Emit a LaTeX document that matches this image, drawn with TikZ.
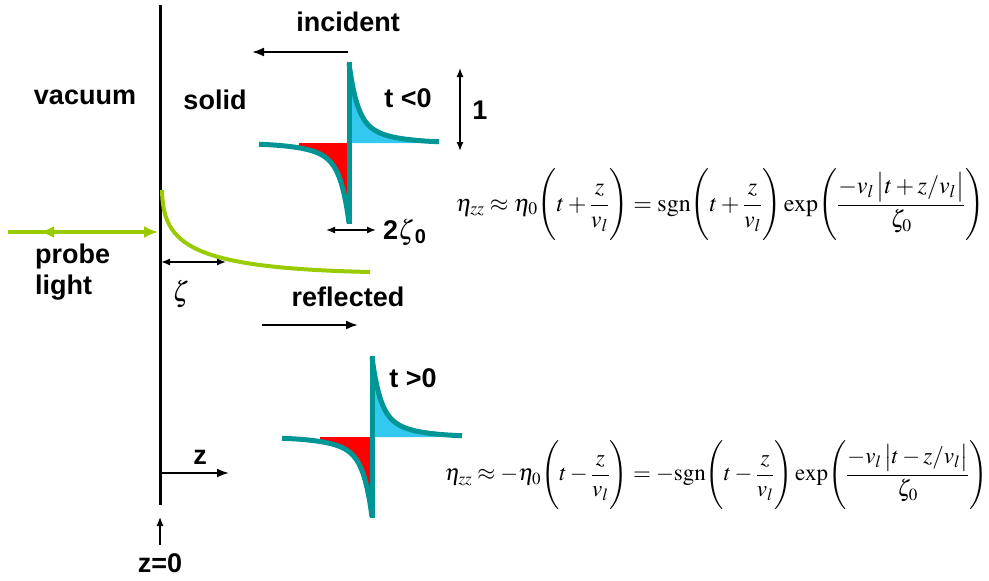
\documentclass[tikz,border=0pt]{standalone}
\usepackage[no-math]{fontspec}
\usepackage{amsmath,mathptmx}
\usepackage{tikz}
\usetikzlibrary{arrows.meta,positioning,calc}
\newfontfamily\labelfont{Liberation Sans}
\definecolor{pulseteal}{RGB}{0,150,150}
\definecolor{pulsecyan}{RGB}{50,200,240}
\definecolor{pulsered}{RGB}{255,0,0}
\definecolor{probegreen}{RGB}{153,204,0}

\tikzset{
  lbl/.style={font=\fontsize{27}{31}\selectfont\labelfont\bfseries,inner sep=0pt},
  eqn/.style={font=\fontsize{24}{28}\selectfont,inner sep=0pt},
  blackarrow/.style={line width=2pt,-{Latex[length=12pt,width=9pt]}},
  dimarrow/.style={line width=1.4pt,{Latex[length=9pt,width=7pt]}-{Latex[length=9pt,width=7pt]}},
  declare function={pulse(\x)=55*exp(-\x/8)+25*exp(-\x/30);},
}

\begin{document}
\begin{tikzpicture}[x=1pt,y=-1pt]
\useasboundingbox (0,0) rectangle (989,581);
% wall at z=0
\draw[line width=3pt] (160,5)--(160,505);
\node[lbl] (vac) at (85,97) {vacuum};
\node[lbl] (sol) at (215,100) {solid};
% incident / reflected
\node[lbl] (inc) at (348,22) {incident};
\coordinate (incA) at (348,52);
\coordinate (incB) at (252,52);
\draw[blackarrow] (incA)--(incB);
\node[lbl] (refl) at (348,297) {reflected};
\coordinate (refA) at (262,325);
\coordinate (refB) at (358,325);
\draw[blackarrow] (refA)--(refB);
% the two strain pulses
\foreach \ox/\oy/\rl in {349/143/50, 372/437/52}{
  \begin{scope}[shift={(\ox,\oy)}]
    \fill[pulsecyan] (0,0) -- plot[domain=0:66,samples=60] (\x,{-pulse(\x)}) -- (66,0) -- cycle;
    \fill[pulsered] (0,0) -- plot[domain=0:\rl,samples=60] (-\x,{pulse(\x)}) -- (-\rl,0) -- cycle;
    \draw[pulseteal,line width=5pt] plot[domain=0:90,samples=80,smooth] (\x,{-pulse(\x)});
    \draw[pulseteal,line width=5pt] plot[domain=0:90,samples=80,smooth] (-\x,{pulse(\x)});
    \draw[pulseteal,line width=5pt] (0,-81)--(0,81);
  \end{scope}
}
\node[lbl] (tneg) at (408,98) {t <0};
\node[lbl] (tpos) at (413,378) {t >0};
% amplitude and width
\coordinate (ampT) at (460,68);
\coordinate (ampB) at (460,151);
\draw[dimarrow] (ampT)--(ampB);
\node[lbl] (one) at (480,110) {1};
\coordinate (wdL) at (326,230);
\coordinate (wdR) at (376,230);
\draw[dimarrow] (wdL)--(wdR);
\node[lbl,anchor=west] (wd) at (383,232) {2$\zeta$\textsubscript{0}};
% probe light
\coordinate (prA) at (8,232);
\coordinate (prB) at (158,232);
\coordinate (prC) at (70,232);
\coordinate (prD) at (40,232);
\draw[probegreen,line width=4pt,-{Latex[length=14pt,width=12pt]}] (prA)--(prB);
\draw[probegreen,line width=4pt,-{Latex[length=14pt,width=12pt]}] (prC)--(prD);
\node[lbl,anchor=west,align=left] (probe) at (35,272) {probe\\light};
\draw[probegreen,line width=4pt] (162,190) .. controls (163,245) and (190,268) .. (370,272);
\coordinate (zeA) at (161,262);
\coordinate (zeB) at (226,262);
\draw[dimarrow] (zeA)--(zeB);
\node[font=\fontsize{28}{32}\selectfont] (zeta) at (181,294) {$\zeta$};
% axis
\node[lbl] (zlab) at (200,457) {z};
\coordinate (zA) at (162,473);
\coordinate (zB) at (229,473);
\draw[blackarrow] (zA)--(zB);
\node[lbl] (zzero) at (160,563) {z=0};
\coordinate (zoA) at (160,545);
\coordinate (zoB) at (160,517);
\draw[line width=1.2pt,-{Latex[length=9pt,width=7pt]}] (zoA)--(zoB);
% strain formulas
\node[eqn] (eqinc) at (720,205) {$\displaystyle \eta_{zz}\approx\eta_0\Biggl(t+\frac{z}{v_l}\Biggr)=\mathrm{sgn}\Biggl(t+\frac{z}{v_l}\Biggr)\exp\Biggl(\frac{-v_l\,\bigl|t+z/v_l\bigr|}{\zeta_0}\Biggr)$};
\node[eqn,font=\fontsize{23}{27}\selectfont] (eqref) at (716,475) {$\displaystyle \eta_{zz}\approx-\eta_0\Biggl(t-\frac{z}{v_l}\Biggr)=-\mathrm{sgn}\Biggl(t-\frac{z}{v_l}\Biggr)\exp\Biggl(\frac{-v_l\,\bigl|t-z/v_l\bigr|}{\zeta_0}\Biggr)$};
\end{tikzpicture}
\end{document}
